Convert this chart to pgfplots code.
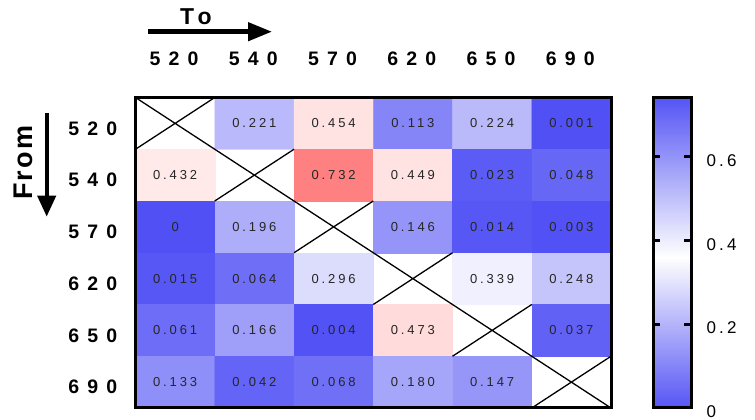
\documentclass[border=0pt]{standalone}
\usepackage{fontspec}
\setmainfont{Liberation Sans}
\newfontfamily\lsbold[LetterSpace=42]{Liberation Sans}
\newfontfamily\lscell[LetterSpace=22]{Liberation Sans}
\newfontfamily\lscb[LetterSpace=18]{Liberation Sans}
\newfontfamily\lstitle[LetterSpace=22]{Liberation Sans}
\newfontfamily\lsfrom[LetterSpace=8]{Liberation Sans}
\usepackage{pgfplots}
\pgfplotsset{compat=1.18}
\usepackage{pgfplotstable}
\usetikzlibrary{arrows.meta}

% x = "To" column index, y = 5 - "From" row index
\pgfplotstableread{
x y v lab
0 5 nan {}
1 5 0.221 0.221
2 5 0.454 0.454
3 5 0.113 0.113
4 5 0.224 0.224
5 5 0.001 0.001
0 4 0.432 0.432
1 4 nan {}
2 4 0.732 0.732
3 4 0.449 0.449
4 4 0.023 0.023
5 4 0.048 0.048
0 3 0 0
1 3 0.196 0.196
2 3 nan {}
3 3 0.146 0.146
4 3 0.014 0.014
5 3 0.003 0.003
0 2 0.015 0.015
1 2 0.064 0.064
2 2 0.296 0.296
3 2 nan {}
4 2 0.339 0.339
5 2 0.248 0.248
0 1 0.061 0.061
1 1 0.166 0.166
2 1 0.004 0.004
3 1 0.473 0.473
4 1 nan {}
5 1 0.037 0.037
0 0 0.133 0.133
1 0 0.042 0.042
2 0 0.068 0.068
3 0 0.180 0.180
4 0 0.147 0.147
5 0 nan {}
}\cells

\begin{document}
\begin{tikzpicture}
\path[use as bounding box] (0,0) rectangle (755pt,420pt);

\begin{axis}[
  at={(135.5pt,12pt)}, anchor=south west,
  scale only axis, width=475.5pt, height=310.5pt,
  xmin=-0.5, xmax=5.5, ymin=-0.5, ymax=5.5,
  axis on top,
  axis line style={line width=3pt},
  major tick length=0pt,
  xtick={0,...,5}, xticklabels={520,540,570,620,650,690},
  xticklabel pos=upper,
  xticklabel style={font=\lsbold\bfseries\fontsize{19.5}{19.5}\selectfont, inner sep=0pt, anchor=base, yshift=31.8pt, xshift=-1pt},
  ytick={0,...,5}, yticklabels={690,650,620,570,540,520},
  yticklabel style={font=\lsbold\bfseries\fontsize{19.5}{19.5}\selectfont, inner sep=0pt, anchor=east, xshift=-18pt, yshift=-5pt},
  colormap={heat}{rgb255(0)=(80,80,245) rgb255(370)=(255,255,255) rgb255(732)=(255,128,128)},
  point meta min=0, point meta max=0.732,
  unbounded coords=jump,
]
\addplot[matrix plot*, mesh/cols=6, point meta=explicit] table[x=x, y=y, meta=v] {\cells};
\addplot[black, line width=1.3pt, unbounded coords=jump] coordinates {
  (-0.5,5.5) (5.5,-0.5) (nan,nan)
  (-0.5,4.5) (0.5,5.5) (nan,nan)
  (0.5,3.5) (1.5,4.5) (nan,nan)
  (1.5,2.5) (2.5,3.5) (nan,nan)
  (2.5,1.5) (3.5,2.5) (nan,nan)
  (3.5,0.5) (4.5,1.5) (nan,nan)
  (4.5,-0.5) (5.5,0.5)
};
\addplot[only marks, mark=*, mark size=0pt, mark options={draw=none, fill=none},
  point meta=explicit symbolic, nodes near coords,
  nodes near coords style={anchor=center, inner sep=0pt, text=black!85,
    font=\lscell\fontsize{13}{13}\selectfont}]
  table[x=x, y=y, meta=lab] {\cells};
\end{axis}

\begin{axis}[
  at={(653pt,12pt)}, anchor=south west,
  scale only axis, width=38pt, height=310.5pt,
  xmin=0, xmax=1, ymin=0, ymax=0.74,
  axis on top,
  axis line style={line width=3pt},
  xtick=\empty,
  ytick={0,0.2,0.4,0.6}, yticklabels={0,0.2,0.4,0.6},
  ytick pos=both,
  tick align=inside, major tick length=7pt,
  ytick style={line width=3pt, black},
  yticklabel style={font=\lscb\fontsize{17}{17}\selectfont, inner sep=0pt, anchor=west, xshift=53.5pt, yshift=-4pt},
  colormap={cb}{rgb255(0)=(85,85,245) rgb255(36)=(255,255,255) rgb255(74)=(85,85,245)},
  point meta min=0, point meta max=0.74,
]
\addplot[surf, shader=interp, mesh/cols=2, point meta=y] coordinates {
  (0,0) (1,0)

  (0,0.74) (1,0.74)
};
\end{axis}

\node[font=\lstitle\bfseries\fontsize{23}{23}\selectfont, anchor=base west, inner sep=0pt] at (180pt,395pt) {To};
\draw[line width=4.5pt, -{Triangle[length=24pt,width=18pt]}] (148pt,388.3pt) -- (272pt,388.3pt);
\node[font=\lsfrom\bfseries\fontsize{27}{27}\selectfont, rotate=90, anchor=base west, inner sep=0pt] at (32pt,220pt) {From};
\draw[line width=4pt, -{Triangle[length=21pt,width=18pt]}] (46.7pt,307pt) -- (46.7pt,203.3pt);
\end{tikzpicture}
\end{document}
